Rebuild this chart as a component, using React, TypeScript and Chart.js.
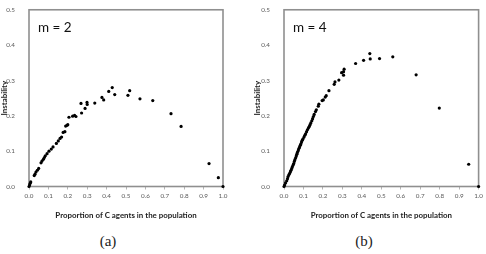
import React, { useEffect, useRef } from "react";
import { Chart, registerables } from "chart.js";

Chart.register(...registerables);

// Proportion of C agents (x) and instability (y), m = 2
const m2Prop = [
  0, 0.003, 0.006, 0.009, 0.027, 0.031, 0.036, 0.043, 0.05, 0.062, 0.067, 0.074,
  0.079, 0.084, 0.093, 0.103, 0.115, 0.124, 0.141, 0.151, 0.16, 0.168, 0.176, 0.185,
  0.189, 0.196, 0.2, 0.206, 0.225, 0.235, 0.242, 0.268, 0.271, 0.289, 0.299, 0.3,
  0.339, 0.376, 0.385, 0.411, 0.429, 0.442, 0.51, 0.519, 0.572, 0.638, 0.732, 0.784,
  0.928, 0.976, 1.0,
];
const m2Inst = [
  0, 0.004, 0.009, 0.013, 0.031, 0.035, 0.041, 0.046, 0.051, 0.067, 0.072, 0.077,
  0.082, 0.087, 0.093, 0.1, 0.106, 0.112, 0.122, 0.129, 0.136, 0.14, 0.153, 0.155,
  0.171, 0.173, 0.175, 0.196, 0.199, 0.201, 0.198, 0.235, 0.208, 0.221, 0.238, 0.232,
  0.236, 0.252, 0.245, 0.269, 0.28, 0.26, 0.258, 0.271, 0.248, 0.243, 0.206, 0.17,
  0.065, 0.025, 0,
];

// Proportion of C agents (x) and instability (y), m = 4
const m4Prop = [
  0, 0.003, 0.008, 0.014, 0.018, 0.021, 0.025, 0.029, 0.033, 0.036, 0.04, 0.043,
  0.047, 0.05, 0.053, 0.056, 0.06, 0.063, 0.066, 0.068, 0.071, 0.074, 0.077, 0.08,
  0.084, 0.087, 0.09, 0.094, 0.098, 0.103, 0.107, 0.111, 0.116, 0.121, 0.126, 0.13,
  0.134, 0.138, 0.143, 0.147, 0.151, 0.155, 0.162, 0.166, 0.176, 0.179, 0.196, 0.202,
  0.212, 0.217, 0.231, 0.258, 0.262, 0.282, 0.296, 0.306, 0.309, 0.306, 0.368, 0.409,
  0.441, 0.443, 0.491, 0.559, 0.679, 0.798, 0.949, 1.0,
];
const m4Inst = [
  0, 0.004, 0.01, 0.016, 0.022, 0.028, 0.033, 0.037, 0.042, 0.046, 0.051, 0.056,
  0.061, 0.065, 0.071, 0.076, 0.081, 0.086, 0.091, 0.095, 0.099, 0.103, 0.108, 0.112,
  0.117, 0.121, 0.126, 0.131, 0.135, 0.14, 0.145, 0.149, 0.155, 0.161, 0.166, 0.17,
  0.175, 0.18, 0.186, 0.192, 0.198, 0.204, 0.212, 0.217, 0.227, 0.233, 0.243, 0.245,
  0.253, 0.257, 0.271, 0.289, 0.296, 0.301, 0.322, 0.325, 0.332, 0.315, 0.348, 0.357,
  0.376, 0.361, 0.362, 0.367, 0.316, 0.222, 0.063, 0,
];

// Tick positions on both axes
const xTicks = [0, 0.1, 0.2, 0.3, 0.4, 0.5, 0.6, 0.7, 0.8, 0.9, 1.0];
const yTicks = [0, 0.1, 0.2, 0.3, 0.4, 0.5];

const xTitle = "Proportion of C agents in the population";
const yTitle = "Instability";

const TICK_FONT = { family: "Lato, 'Open Sans', sans-serif", size: 6.3 };
const TITLE_FONT = { family: "Lato, 'Open Sans', sans-serif", size: 7.9, weight: "bold" as const };

type PanelProps = {
  xs: number[];
  ys: number[];
  label: string;
  left: number;
  width: number;
  yAxisWidth: number;
  rightPad: number;
};

const CANVAS_H = 224;
const PLOT_TOP = 9;
const PLOT_BOTTOM = 186.5;

function ScatterPanel({ xs, ys, label, left, width, yAxisWidth, rightPad }: PanelProps) {
  const ref = useRef<HTMLCanvasElement | null>(null);

  useEffect(() => {
    if (!ref.current) return;
    const points = xs.map((x, i) => ({ x, y: ys[i] }));

    // frame round the plot area plus the "m = n" annotation
    const framePlugin = {
      id: "frameAndLabel",
      beforeDatasetsDraw(chart: Chart) {
        const { ctx, chartArea } = chart;
        ctx.save();
        ctx.strokeStyle = "#8f8f8f";
        ctx.lineWidth = 1.6;
        ctx.strokeRect(
          chartArea.left,
          chartArea.top,
          chartArea.right - chartArea.left,
          chartArea.bottom - chartArea.top
        );
        ctx.fillStyle = "#111";
        ctx.font = "13.5px Lato, 'Open Sans', sans-serif";
        ctx.textBaseline = "alphabetic";
        ctx.textAlign = "left";
        ctx.fillText(label, chartArea.left + 9, chartArea.top + 22.5);
        ctx.restore();
      },
    };

    const chart = new Chart(ref.current, {
      type: "scatter",
      data: {
        datasets: [
          {
            data: points,
            backgroundColor: "#000",
            borderWidth: 0,
            pointRadius: 1.6,
            pointHoverRadius: 1.6,
            clip: 5,
          },
        ],
      },
      options: {
        animation: false,
        responsive: false,
        maintainAspectRatio: false,
        events: [],
        layout: { padding: { top: PLOT_TOP, right: rightPad, left: 0, bottom: 0 } },
        plugins: { legend: { display: false }, tooltip: { enabled: false } },
        scales: {
          x: {
            type: "linear",
            min: 0,
            max: 1,
            afterBuildTicks(scale: any) {
              scale.ticks = xTicks.map((value) => ({ value }));
            },
            afterFit(scale: any) {
              scale.height = CANVAS_H - PLOT_BOTTOM;
            },
            border: { display: false },
            grid: {
              drawOnChartArea: false,
              drawTicks: true,
              tickLength: 3,
              color: "#b5b5b5",
              lineWidth: 1,
            },
            ticks: {
              padding: 3,
              autoSkip: false,
              color: "#5a5a5a",
              font: TICK_FONT,
              maxRotation: 0,
              callback: (v: any) => Number(v).toFixed(1),
            },
            title: {
              display: true,
              text: xTitle,
              color: "#222",
              font: TITLE_FONT,
              padding: { top: 0, bottom: 4 },
            },
          },
          y: {
            type: "linear",
            min: 0,
            max: 0.5,
            afterBuildTicks(scale: any) {
              scale.ticks = yTicks.map((value) => ({ value }));
            },
            afterFit(scale: any) {
              scale.width = yAxisWidth;
            },
            border: { display: false },
            grid: { display: false },
            ticks: {
              padding: 6,
              autoSkip: false,
              color: "#5a5a5a",
              font: TICK_FONT,
              callback: (v: any) => Number(v).toFixed(1),
            },
            title: {
              display: true,
              text: yTitle,
              color: "#222",
              font: TITLE_FONT,
              padding: 0,
            },
          },
        },
      },
      plugins: [framePlugin],
    });
    return () => chart.destroy();
  }, [xs, ys, label, yAxisWidth, rightPad]);

  return (
    <canvas
      ref={ref}
      width={width}
      height={CANVAS_H}
      style={{ position: "absolute", left, top: 0, width, height: CANVAS_H }}
    />
  );
}

const captionStyle: React.CSSProperties = {
  position: "absolute",
  top: 232,
  width: 40,
  textAlign: "center",
  fontFamily: "'Liberation Serif', 'DejaVu Serif', serif",
  fontSize: 15,
  lineHeight: "18px",
  color: "#222",
};

export default function App() {
  return (
    <div
      style={{
        position: "absolute",
        left: 0,
        top: 0,
        width: 486,
        height: 254,
        background: "#fff",
        overflow: "hidden",
      }}
    >
      <ScatterPanel xs={m2Prop} ys={m2Inst} label="m = 2" left={0} width={243} yAxisWidth={29} rightPad={20} />
      <ScatterPanel xs={m4Prop} ys={m4Inst} label="m = 4" left={253} width={233} yAxisWidth={31} rightPad={7} />
      <div style={{ ...captionStyle, left: 88 }}>(a)</div>
      <div style={{ ...captionStyle, left: 344 }}>(b)</div>
    </div>
  );
}
